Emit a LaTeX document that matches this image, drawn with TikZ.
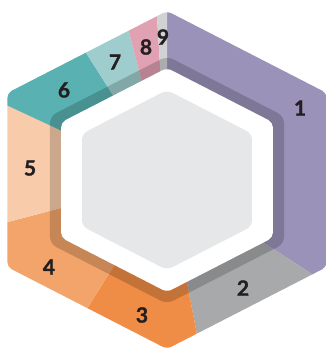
\documentclass[tikz,border=0pt]{standalone}
\usepackage{fontspec}
\setmainfont{Lato}[BoldFont={Lato Bold}, BoldFeatures={FakeBold=1.2}]
\definecolor{cA}{HTML}{9B92B9}
\definecolor{cB}{HTML}{A8A9AA}
\definecolor{cC}{HTML}{EF8C45}
\definecolor{cD}{HTML}{F2A46A}
\definecolor{cE}{HTML}{F8CCAA}
\definecolor{cF}{HTML}{5AB1B1}
\definecolor{cG}{HTML}{9FCCCC}
\definecolor{cH}{HTML}{E0A1B3}
\definecolor{cI}{HTML}{D1D2D4}
\definecolor{cIn}{HTML}{E6E7E8}
\definecolor{txt}{HTML}{231F20}
\tikzset{
  lbl/.style={text=txt, font=\fontsize{21}{21}\selectfont\bfseries, inner sep=0pt},
}
\newcommand{\hexp}[1]{(0,169*#1) -- (159.7*#1,87*#1) -- (159.7*#1,-87*#1) -- (0,-169*#1) -- (-159.7*#1,-87*#1) -- (-159.7*#1,87*#1) -- cycle}
\newcommand{\segwedge}[3]{\fill[#3] (0,0) -- (#1:400) arc[start angle=#1, end angle=#2, radius=400] -- cycle;}
\begin{document}
\begin{tikzpicture}[x=1pt,y=1pt]
\useasboundingbox (0,0) rectangle (325,351);
\begin{scope}[shift={(167,171)}]
  \coordinate (c) at (0,0);
  \begin{scope}
    \clip[rounded corners=5pt] \hexp{1};
    \segwedge{327}{450}{cA}
    \segwedge{281}{327}{cB}
    \segwedge{238.2}{281}{cC}
    \segwedge{194.8}{238.2}{cD}
    \segwedge{155}{194.8}{cE}
    \segwedge{122.5}{155}{cF}
    \segwedge{104.4}{122.5}{cG}
    \segwedge{93.5}{104.4}{cH}
    \segwedge{90}{93.5}{cI}
  \end{scope}
  \fill[black, opacity=0.18, rounded corners=7pt] \hexp{0.733};
  \fill[white, rounded corners=5pt] \hexp{0.663};
  \fill[cIn, rounded corners=6pt] \hexp{0.532};
\end{scope}
\node[lbl] (n1) at (300,243) {1};
\node[lbl] (n2) at (243,63) {2};
\node[lbl] (n3) at (142,36) {3};
\node[lbl] (n4) at (49,84) {4};
\node[lbl] (n5) at (30,183) {5};
\node[lbl] (n6) at (64,261) {6};
\node[lbl] (n7) at (115,289) {7};
\node[lbl] (n8) at (146,304) {8};
\node[lbl] (n9) at (163,314) {9};
\end{tikzpicture}
\end{document}
